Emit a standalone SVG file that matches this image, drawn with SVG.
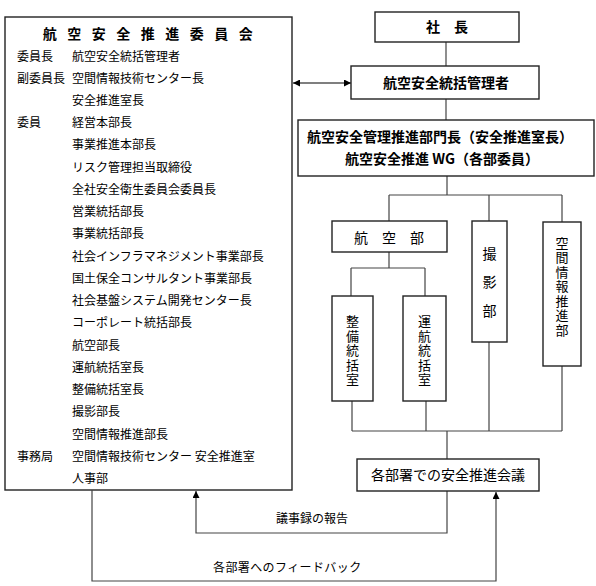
<svg xmlns="http://www.w3.org/2000/svg" width="596" height="586" viewBox="0 0 596 586">
<style>
text{font-family:"Noto Sans CJK JP","Noto Sans",sans-serif;fill:#000}
.box{fill:#fff;stroke:#222;stroke-width:1.4}
.ln{fill:none;stroke:#444;stroke-width:1.2}
.lst{font-size:12px}
.b{font-weight:bold;font-size:14px}
.m{font-size:14px}
.c{text-anchor:middle}
.v{font-size:13px;text-anchor:middle;writing-mode:vertical-rl;letter-spacing:1.5px}
</style>
<defs>
<marker id="ah" viewBox="0 0 10 10" refX="10" refY="5" markerWidth="7" markerHeight="7" orient="auto-start-reverse" markerUnits="userSpaceOnUse">
<path d="M0,0 L10,5 L0,10 z" fill="#000"/>
</marker>
</defs>
<rect width="596" height="586" fill="#fff"/>

<g id="committee">
<rect class="box" x="5" y="17" width="287" height="473"/>
<text class="b c" x="153" y="39" letter-spacing="10.5">航空安全推進委員会</text>
<g class="lst">
<text x="17" y="61">委員長</text><text x="72" y="61">航空安全統括管理者</text>
<text x="17" y="83">副委員長</text><text x="72" y="83">空間情報技術センター長</text>
<text x="72" y="105">安全推進室長</text>
<text x="17" y="127">委員</text><text x="72" y="127">経営本部長</text>
<text x="72" y="149">事業推進本部長</text>
<text x="72" y="172">リスク管理担当取締役</text>
<text x="72" y="194">全社安全衛生委員会委員長</text>
<text x="72" y="216">営業統括部長</text>
<text x="72" y="238">事業統括部長</text>
<text x="72" y="261">社会インフラマネジメント事業部長</text>
<text x="72" y="283">国土保全コンサルタント事業部長</text>
<text x="72" y="305">社会基盤システム開発センター長</text>
<text x="72" y="327">コーポレート統括部長</text>
<text x="72" y="350">航空部長</text>
<text x="72" y="372">運航統括室長</text>
<text x="72" y="394">整備統括室長</text>
<text x="72" y="416">撮影部長</text>
<text x="72" y="439">空間情報推進部長</text>
<text x="17" y="461">事務局</text><text x="72" y="461">空間情報技術センター 安全推進室</text>
<text x="72" y="483">人事部</text>
</g>
</g>

<g id="connectors">
<line class="ln" x1="446" y1="42" x2="446" y2="66"/>
<line class="ln" x1="446" y1="99" x2="446" y2="120"/>
<line x1="293" y1="83" x2="351" y2="83" stroke="#000" stroke-width="1.2" marker-start="url(#ah)" marker-end="url(#ah)"/>
<path class="ln" d="M447,176 V195 M389,195 H562 M389,195 V221 M489,195 V221 M562,195 V222"/>
<path class="ln" d="M389,252 V268 M351,268 H425 M351,268 V296 M425,268 V296"/>
<path class="ln" d="M352,401 V431 M426,401 V431 M489,342 V431 M562,366 V431 M352,431 H562 M447,431 V459"/>
<path class="ln" d="M447,491 V533 H196 V491" marker-end="url(#ah)" stroke="#000"/>
<path class="ln" d="M92,490 V581 H496 V492" marker-end="url(#ah)" stroke="#000"/>
<text class="lst" x="276" y="523">議事録の報告</text>
<text class="lst" x="213" y="572" letter-spacing="0.4">各部署へのフィードバック</text>
</g>

<g id="president">
<rect class="box" x="375" y="12" width="144" height="30"/>
<text class="b c" x="447" y="32">社　長</text>
</g>

<g id="manager">
<rect class="box" x="351" y="66" width="188" height="33"/>
<text class="b c" x="446" y="88">航空安全統括管理者</text>
</g>

<g id="promotion">
<rect class="box" x="298" y="120" width="296" height="56"/>
<text class="b c" x="440" y="142" font-size="13.5">航空安全管理推進部門長（安全推進室長）</text>
<text class="b c" x="442" y="164" font-size="13.5">航空安全推進 WG（各部委員）</text>
</g>

<g id="aviation">
<rect class="box" x="332" y="221" width="115" height="31"/>
<text class="m c" x="389" y="243">航　空　部</text>
</g>

<g id="photo">
<rect class="box" x="472" y="221" width="35" height="121"/>
<text class="v" x="489.5" y="289" style="font-size:14px;letter-spacing:14.5px">撮影部</text>
</g>

<g id="spatial">
<rect class="box" x="543" y="222" width="38" height="144"/>
<text class="v" x="562" y="287">空間情報推進部</text>
</g>

<g id="maintenance">
<rect class="box" x="332" y="296" width="41" height="105"/>
<text class="v" x="352.5" y="351">整備統括室</text>
</g>

<g id="operation">
<rect class="box" x="403" y="296" width="43" height="105"/>
<text class="v" x="424.5" y="351">運航統括室</text>
</g>

<g id="meeting">
<rect class="box" x="357" y="459" width="182" height="32"/>
<text class="m c" x="448" y="480">各部署での安全推進会議</text>
</g>
</svg>
